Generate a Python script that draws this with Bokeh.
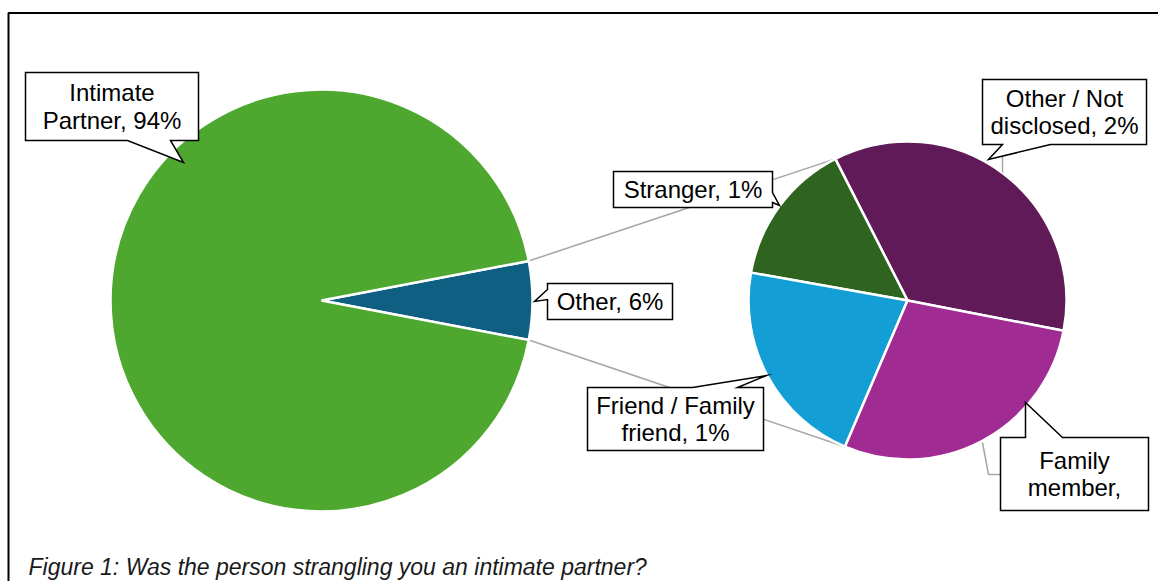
import numpy as np
from bokeh.plotting import figure
from bokeh.models import Range1d
from bokeh.core.properties import value
from bokeh.embed import file_html
from bokeh.resources import INLINE

# ---------------- data ----------------
main_categories = ["Other", "Intimate Partner"]
main_values = [6, 94]
main_colors = ["#0E5F82", "#4EA72E"]

sub_categories = ["Other / Not disclosed", "Stranger", "Friend / Family friend", "Family member"]
sub_values = [2.13, 0.88, 1.28, 1.70]
sub_colors = ["#5F1A57", "#2E641F", "#139FD5", "#A02B93"]

main_label_lines = {"Intimate Partner": ["Intimate", "Partner, 94%"], "Other": ["Other, 6%"]}
sub_label_lines = {
    "Other / Not disclosed": ["Other / Not", "disclosed, 2%"],
    "Stranger": ["Stranger, 1%"],
    "Friend / Family friend": ["Friend / Family", "friend, 1%"],
    "Family member": ["Family", "member,"],
}
caption = "Figure 1: Was the person strangling you an intimate partner?"

# ---------------- layout ----------------
W, H = 1158, 581
def Y(sy):  # screen y -> data y
    return H - sy

MAIN_C = (321, Y(300)); MAIN_R = 211
SUB_C = (907, Y(300)); SUB_R = 159
SUB_START = np.deg2rad(-11)
FONT = value("Liberation Sans")

p = figure(width=W, height=H, x_range=Range1d(0, W), y_range=Range1d(0, H),
           output_backend="svg", toolbar_location=None, x_axis_type=None, y_axis_type=None,
           min_border=0)
p.outline_line_color = None
p.grid.visible = False
p.background_fill_color = "white"
p.border_fill_color = "white"

# frame (cropped figure border)
p.line(x=[8, 8, 1400], y=[Y(800), Y(12.5), Y(12.5)], line_color="black", line_width=2)

# main pie angles: "Other" centred on 0 rad
mv = np.array(main_values, float)
mfrac = mv / mv.sum() * 2 * np.pi
m_start = -mfrac[0] / 2 + np.concatenate([[0], np.cumsum(mfrac)[:-1]])
m_end = m_start + mfrac

sv = np.array(sub_values, float)
sfrac = sv / sv.sum() * 2 * np.pi
s_start = SUB_START + np.concatenate([[0], np.cumsum(sfrac)[:-1]])
s_end = s_start + sfrac

# connector lines
top_main = m_end[0]; bot_main = m_start[0]
top_sub = s_end[0]; bot_sub = s_start[3]
p.segment(x0=[MAIN_C[0] + MAIN_R * np.cos(top_main), MAIN_C[0] + MAIN_R * np.cos(bot_main)],
          y0=[MAIN_C[1] + MAIN_R * np.sin(top_main), MAIN_C[1] + MAIN_R * np.sin(bot_main)],
          x1=[SUB_C[0] + SUB_R * np.cos(top_sub), SUB_C[0] + SUB_R * np.cos(bot_sub)],
          y1=[SUB_C[1] + SUB_R * np.sin(top_sub), SUB_C[1] + SUB_R * np.sin(bot_sub)],
          line_color="#A6A6A6", line_width=1.5)

# wedges
p.wedge(x=[MAIN_C[0]] * 2, y=[MAIN_C[1]] * 2, radius=MAIN_R,
        start_angle=list(m_start), end_angle=list(m_end),
        fill_color=main_colors, line_color="white", line_width=2.5)
p.wedge(x=[SUB_C[0]] * 4, y=[SUB_C[1]] * 4, radius=SUB_R,
        start_angle=list(s_start), end_angle=list(s_end),
        fill_color=sub_colors, line_color="white", line_width=2.5)

# leader lines (grey)
p.multi_line(xs=[[1002, 1002], [982, 988, 1000]],
             ys=[[Y(144), Y(172)], [Y(442), Y(474), Y(474)]],
             line_color="#A6A6A6", line_width=1.5)

# callouts: polygon with pointer (screen px)
callouts = {
    "Intimate Partner": [(25, 72), (198, 72), (198, 140), (170, 140), (183, 162), (127, 140), (25, 140)],
    "Other": [(547, 283), (672, 283), (672, 319), (547, 319), (547, 299), (534, 301), (547, 289)],
    "Stranger": [(613, 171), (772, 171), (772, 192), (779, 205), (772, 202), (772, 207), (613, 207)],
    "Friend / Family friend": [(587, 387), (692, 387), (766, 375), (737, 387), (763, 387), (763, 450), (587, 450)],
    "Other / Not disclosed": [(982, 79), (1146, 79), (1146, 144), (1050, 144), (988, 159), (1002, 144), (982, 144)],
    "Family member": [(1000, 437), (1025, 437), (1025, 402), (1062, 437), (1148, 437), (1148, 510), (1000, 510)],
}
boxes = {
    "Intimate Partner": (25, 72, 198, 140),
    "Other": (547, 283, 672, 319),
    "Stranger": (613, 171, 772, 207),
    "Friend / Family friend": (587, 387, 763, 450),
    "Other / Not disclosed": (982, 79, 1146, 144),
    "Family member": (1000, 437, 1148, 510),
}
xs, ys = [], []
for k, pts in callouts.items():
    xs.append([q[0] for q in pts])
    ys.append([Y(q[1]) for q in pts])
p.patches(xs=xs, ys=ys, fill_color="white", line_color="black", line_width=1.5, line_join="miter")

all_lines = dict(main_label_lines)
all_lines.update(sub_label_lines)
tx, ty, tt = [], [], []
LH = 27.5
for k, lines in all_lines.items():
    x0, y0, x1, y1 = boxes[k]
    cx = (x0 + x1) / 2
    cy = (y0 + y1) / 2
    n = len(lines)
    for i, ln in enumerate(lines):
        tx.append(cx)
        ty.append(Y(cy + (i - (n - 1) / 2) * LH))
        tt.append(ln)
p.text(x=tx, y=ty, text=tt, text_align="center", text_baseline="middle",
       text_font=FONT, text_font_size="24px", text_color="black")

# caption
p.text(x=[28], y=[Y(566)], text=[caption], text_align="left", text_baseline="alphabetic",
       text_font=FONT, text_font_style="italic", text_font_size="23px", text_color="#1a1a1a")

open("out.html", "w").write(file_html(p, INLINE))
